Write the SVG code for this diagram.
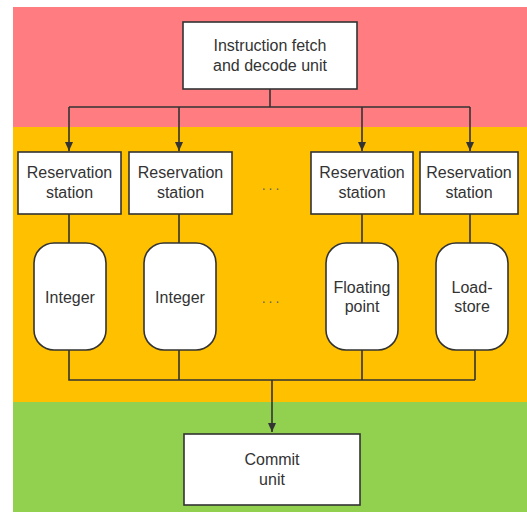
<svg xmlns="http://www.w3.org/2000/svg" width="527" height="512" viewBox="0 0 527 512">
<defs>
<marker id="arr" markerWidth="10" markerHeight="10" refX="9" refY="5" orient="auto" markerUnits="userSpaceOnUse">
<path d="M0,1 L9,5 L0,9 Z" fill="#333"/>
</marker>
<style>
.box{fill:#fff;stroke:#333;stroke-width:1.6}
.t{font-family:"Liberation Sans",Arial,sans-serif;font-size:16px;fill:#333;text-anchor:middle}
.c{fill:none;stroke:#333;stroke-width:1.6}
.dots{font-family:"Liberation Sans",Arial,sans-serif;font-size:14px;fill:#666;text-anchor:middle;letter-spacing:3px}
</style>
</defs>
<rect x="0" y="0" width="527" height="512" fill="#fff"/>
<rect x="13" y="7" width="514" height="120" fill="#FF7C80"/>
<rect x="13" y="127" width="514" height="275" fill="#FFC000"/>
<rect x="13" y="402" width="514" height="110" fill="#92D050"/>
<g id="connectors">
<path class="c" d="M270,89 V107 M69,107 H470"/>
<path class="c" d="M69,107 V151" marker-end="url(#arr)"/>
<path class="c" d="M179,107 V151" marker-end="url(#arr)"/>
<path class="c" d="M362,107 V151" marker-end="url(#arr)"/>
<path class="c" d="M470,107 V151" marker-end="url(#arr)"/>
<path class="c" d="M69,214 V243 M179,214 V243 M362,214 V243 M470,214 V243"/>
<path class="c" d="M69,350 V380 H475 M179,350 V380 M362,350 V380 M475,350 V380"/>
<path class="c" d="M272,380 V432" marker-end="url(#arr)"/>
</g>
<g id="fetch">
<rect class="box" x="183" y="22" width="174" height="67"/>
<text class="t" x="270" y="51">Instruction fetch</text>
<text class="t" x="270" y="71">and decode unit</text>
</g>
<g id="rs1">
<rect class="box" x="18" y="152" width="103" height="62"/>
<text class="t" x="69.5" y="178">Reservation</text>
<text class="t" x="69.5" y="198">station</text>
</g>
<g id="rs2">
<rect class="box" x="129" y="152" width="103" height="62"/>
<text class="t" x="180.5" y="178">Reservation</text>
<text class="t" x="180.5" y="198">station</text>
</g>
<g id="rs3">
<rect class="box" x="311" y="152" width="102" height="62"/>
<text class="t" x="362" y="178">Reservation</text>
<text class="t" x="362" y="198">station</text>
</g>
<g id="rs4">
<rect class="box" x="420" y="152" width="98" height="62"/>
<text class="t" x="469" y="178">Reservation</text>
<text class="t" x="469" y="198">station</text>
</g>
<text class="dots" x="272" y="190">...</text>
<g id="int1">
<rect class="box" x="34" y="243" width="72" height="107" rx="20" ry="20"/>
<text class="t" x="70" y="303">Integer</text>
</g>
<g id="int2">
<rect class="box" x="144" y="243" width="72" height="107" rx="20" ry="20"/>
<text class="t" x="180" y="303">Integer</text>
</g>
<text class="dots" x="272" y="303">...</text>
<g id="fp">
<rect class="box" x="326" y="243" width="72" height="107" rx="20" ry="20"/>
<text class="t" x="362" y="293">Floating</text>
<text class="t" x="362" y="312">point</text>
</g>
<g id="ls">
<rect class="box" x="436" y="243" width="72" height="107" rx="20" ry="20"/>
<text class="t" x="472" y="293">Load-</text>
<text class="t" x="472" y="312">store</text>
</g>
<g id="commit">
<rect class="box" x="184" y="434" width="176" height="71"/>
<text class="t" x="272" y="465">Commit</text>
<text class="t" x="272" y="485">unit</text>
</g>
</svg>
